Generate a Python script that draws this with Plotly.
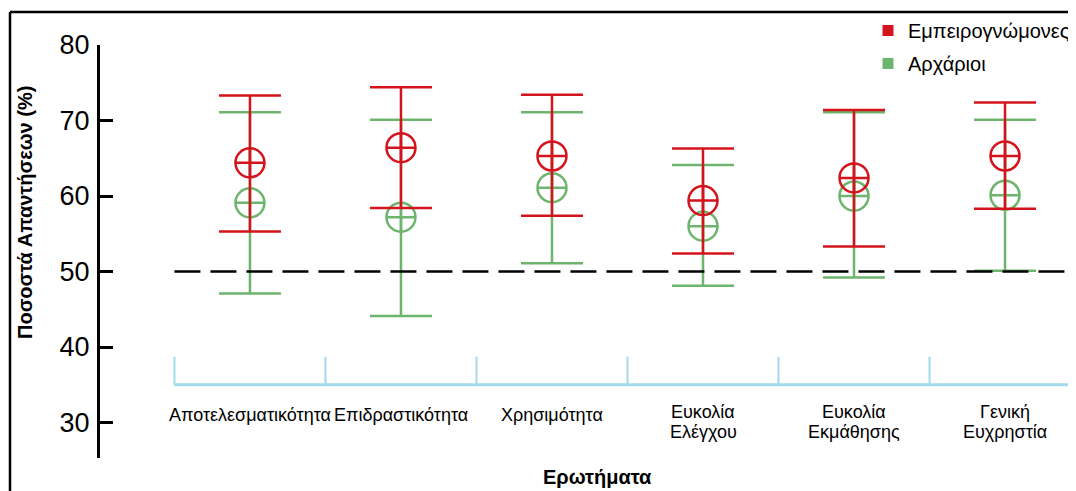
import plotly.graph_objects as go

# categories (questions)
questions = ["Αποτελεσματικότητα", "Επιδραστικότητα", "Χρησιμότητα",
             "Ευκολία<br>Ελέγχου", "Ευκολία<br>Εκμάθησης", "Γενική<br>Ευχρηστία"]

# experts: mean, upper and lower ends of the interval
expert_mean = [64.4, 66.4, 65.3, 59.4, 62.4, 65.3]
expert_high = [73.3, 74.4, 73.4, 66.3, 71.4, 72.4]
expert_low = [55.3, 58.4, 57.4, 52.4, 53.3, 58.3]

# novices
novice_mean = [59.1, 57.2, 61.1, 56.0, 60.0, 60.1]
novice_high = [71.1, 70.1, 71.1, 64.1, 71.1, 70.1]
novice_low = [47.1, 44.1, 51.1, 48.1, 49.2, 50.1]

yticks = [30, 40, 50, 60, 70, 80]
ref_value = 50

RED = "#d4141c"
GREEN = "#6db56d"
BLUE = "#a3d9ea"
FONT = "Liberation Sans, Arial, sans-serif"
NARROW = "Liberation Sans Narrow, Arial Narrow, sans-serif"

xs = list(range(len(questions)))
xmin, xmax = -0.993, 5.47
ymin, ymax = 25.3, 80

# the page body adds an 8px offset, so the figure is laid out 8px up/left
PW, PH = 976, 413  # plot area size in px


def series(mean, high, low, color):
    return go.Scatter(
        x=xs, y=mean, mode="markers", showlegend=False,
        marker=dict(symbol="circle-cross-open", size=29, color=color,
                    line=dict(width=2.5, color=color)),
        error_y=dict(type="data", symmetric=False,
                     array=[h - m for h, m in zip(high, mean)],
                     arrayminus=[m - l for m, l in zip(mean, low)],
                     color=color, thickness=2.5, width=31),
    )


fig = go.Figure()
fig.add_trace(series(novice_mean, novice_high, novice_low, GREEN))
fig.add_trace(series(expert_mean, expert_high, expert_low, RED))

# legend entries with square symbols
for name, color, grp in [("Εμπειρογνώμονες", RED, "a"), ("Αρχάριοι", GREEN, "b")]:
    fig.add_trace(go.Scatter(x=[None], y=[None], mode="markers", name=name,
                             legendgroup=grp,
                             marker=dict(symbol="square", size=11, color=color)))

# reference dashed line
fig.add_shape(type="line", xref="x", yref="y", x0=-0.5, x1=xmax, y0=ref_value, y1=ref_value,
              line=dict(color="black", width=2.5, dash="26px,10px"))

# light blue category brackets
base_y, top_y = 35.0, 38.7
fig.add_shape(type="line", xref="x", yref="y", x0=-0.5, x1=xmax, y0=base_y, y1=base_y,
              line=dict(color=BLUE, width=3))
for i in range(len(questions) + 1):
    b = i - 0.5
    if b < xmax:
        fig.add_shape(type="line", xref="x", yref="y", x0=b, x1=b, y0=base_y, y1=top_y,
                      line=dict(color=BLUE, width=2))

# category labels (lines placed one by one for tighter spacing)
label_y = 31.0
for x, q in zip(xs, questions):
    lines = q.split("<br>")
    shifts = [0] if len(lines) == 1 else [3, -17]
    for line, sh in zip(lines, shifts):
        fig.add_annotation(x=x, y=label_y, xref="x", yref="y", text=line, showarrow=False,
                           yanchor="middle", yshift=sh,
                           font=dict(family=NARROW, size=18, color="black"))

# frame (top and left)
fig.add_shape(type="line", xref="paper", yref="paper", x0=-90 / PW, x1=1.01, y0=1 + 33 / PH, y1=1 + 33 / PH,
              line=dict(color="black", width=2.5))
fig.add_shape(type="line", xref="paper", yref="paper", x0=-90 / PW, x1=-90 / PW, y0=1 + 33 / PH, y1=-0.09,
              line=dict(color="black", width=2.5))

# axis titles
fig.add_annotation(x=-75 / PW, y=(413 - 168) / PH, xref="paper", yref="paper",
                   xanchor="center", yanchor="middle",
                   text="<b>Ποσοστά Απαντήσεων (%)</b>", textangle=-90, showarrow=False,
                   font=dict(family=FONT, size=20, color="black"))
fig.add_annotation(x=497 / PW, y=-19 / PH, xref="paper", yref="paper",
                   xanchor="center", yanchor="middle",
                   text="<b>Ερωτήματα</b>", showarrow=False,
                   font=dict(family=FONT, size=20, color="black"))

fig.update_layout(
    width=1068, height=483,
    margin=dict(l=92, r=0, t=37, b=33, autoexpand=False),
    plot_bgcolor="white", paper_bgcolor="white",
    font=dict(family=FONT, color="black"),
    xaxis=dict(range=[xmin, xmax], showgrid=False, zeroline=False,
               showticklabels=False, showline=False, ticks=""),
    yaxis=dict(range=[ymin, ymax], tickvals=yticks, showgrid=False, zeroline=False,
               showline=True, linecolor="black", linewidth=3,
               ticks="inside", ticklen=13, tickwidth=3, tickcolor="black",
               ticklabelstandoff=2, automargin=False,
               tickfont=dict(family=FONT, size=27, color="black")),
    legend=dict(x=768 / PW, y=1 + 34 / PH, xanchor="left", yanchor="top",
                bgcolor="rgba(0,0,0,0)", tracegroupgap=4,
                font=dict(family=FONT, size=20, color="black")),
    showlegend=True,
)

fig.write_html("out.html")
